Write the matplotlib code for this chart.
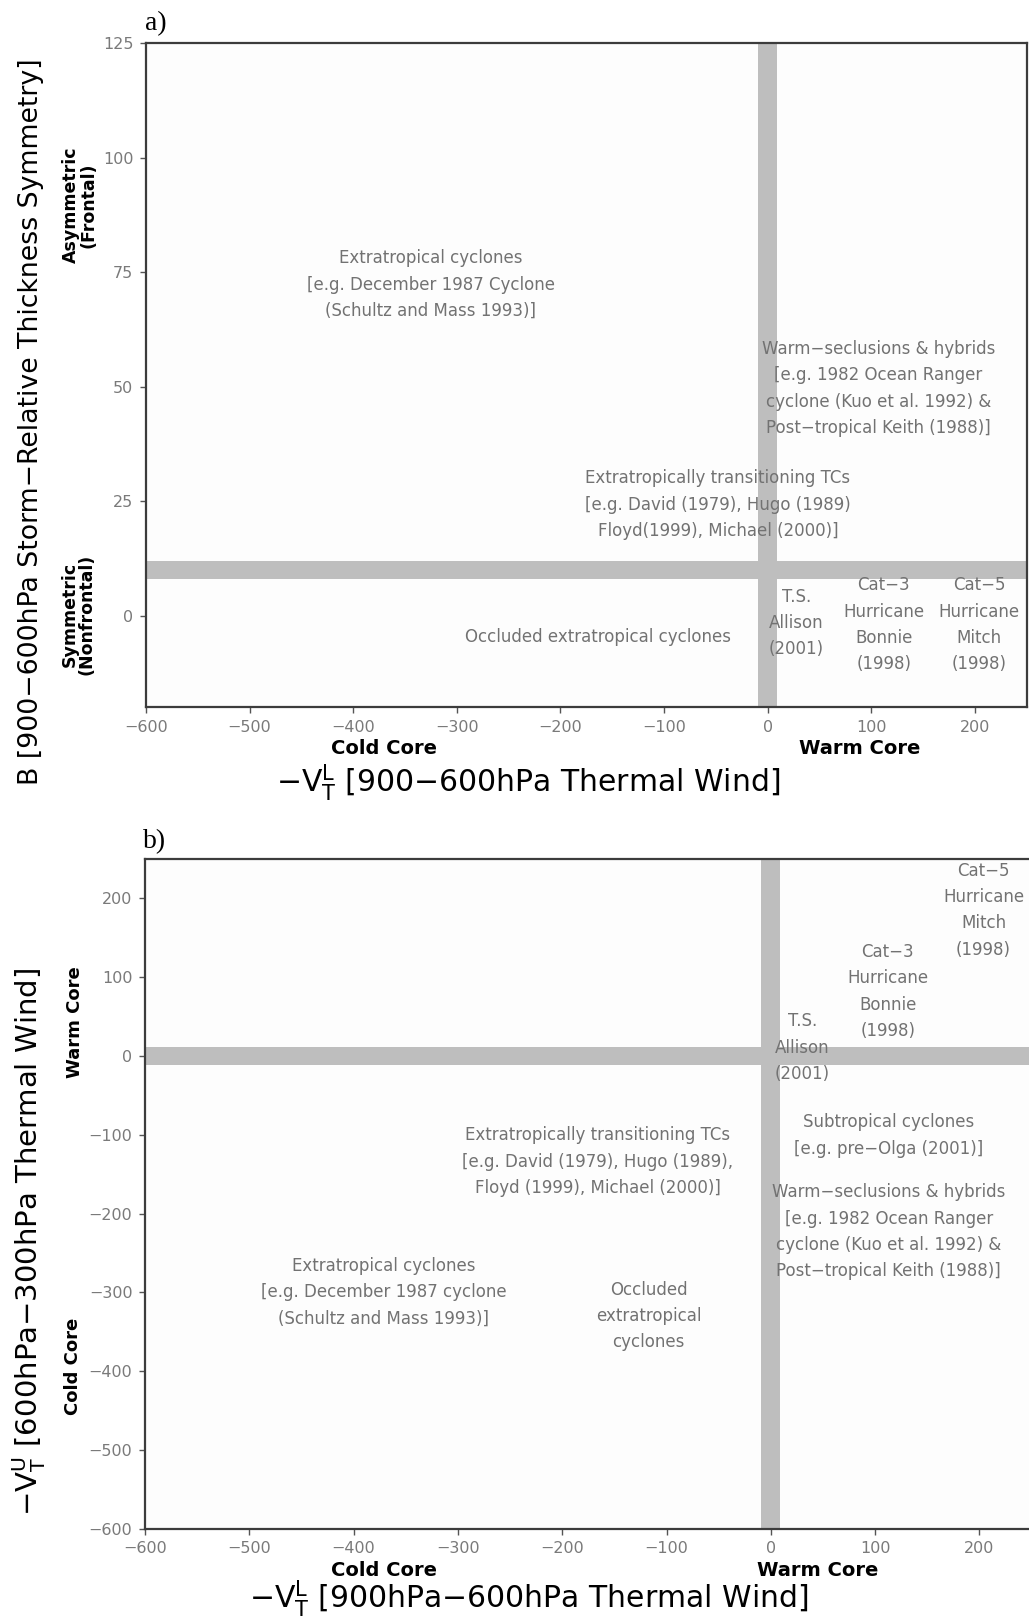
import matplotlib
matplotlib.use("Agg")
import matplotlib.pyplot as plt

plt.rcParams["font.family"] = ["DejaVu Sans"]
plt.rcParams["mathtext.default"] = "regular"

W, H, DPI = 1029, 1619, 100

# Axis ranges and ticks
x_range = (-600, 250)
x_ticks = [-600, -500, -400, -300, -200, -100, 0, 100, 200]
b_range = (-20, 125)
b_ticks = [0, 25, 50, 75, 100, 125]
vtu_range = (-600, 250)
vtu_ticks = [-600, -500, -400, -300, -200, -100, 0, 100, 200]

# Regime boundaries (shaded bands)
vtl_band = (-9, 9)
b_band = (8, 12)
vtu_band = (-12, 12)

# Panel a: regime annotations (B versus -VTL)
texts_a = [
    "Extratropical cyclones\n[e.g. December 1987 Cyclone\n(Schultz and Mass 1993)]",
    "Warm\u2212seclusions & hybrids\n[e.g. 1982 Ocean Ranger\ncyclone (Kuo et al. 1992) &\nPost\u2212tropical Keith (1988)]",
    "Extratropically transitioning TCs\n[e.g. David (1979), Hugo (1989)\nFloyd(1999), Michael (2000)]",
    "Occluded extratropical cyclones",
    "T.S.\nAllison\n(2001)",
    "Cat\u22123\nHurricane\nBonnie\n(1998)",
    "Cat\u22125\nHurricane\nMitch\n(1998)",
]
vtl_a = [-325, 107, -48, -164, 28, 112, 204]
b_a = [72.3, 49.6, 24.2, -4.7, -1.6, -2.0, -2.0]

# Panel b: regime annotations (-VTU versus -VTL)
texts_b = [
    "Cat\u22125\nHurricane\nMitch\n(1998)",
    "Cat\u22123\nHurricane\nBonnie\n(1998)",
    "T.S.\nAllison\n(2001)",
    "Subtropical cyclones\n[e.g. pre\u2212Olga (2001)]",
    "Warm\u2212seclusions & hybrids\n[e.g. 1982 Ocean Ranger\ncyclone (Kuo et al. 1992) &\nPost\u2212tropical Keith (1988)]",
    "Extratropically transitioning TCs\n[e.g. David (1979), Hugo (1989),\nFloyd (1999), Michael (2000)]",
    "Extratropical cyclones\n[e.g. December 1987 cyclone\n(Schultz and Mass 1993)]",
    "Occluded\nextratropical\ncyclones",
]
vtl_b = [204, 112, 30, 113, 113, -166, -371, -117]
vtu_b = [185, 82, 10.5, -101, -223, -134, -300, -330]

BAND = "#bebebe"
SPINE = "#3c3c3c"
TICKTXT = "#7a7a7a"
NOTE = "#727272"


def px(x, y):
    return x / W, 1 - y / H


def style(ax, ylim, yticks):
    ax.set_xlim(*x_range)
    ax.set_ylim(*ylim)
    ax.set_xticks(x_ticks)
    ax.set_yticks(yticks)
    ax.set_facecolor("#fdfdfd")
    ax.tick_params(direction="out", length=4, width=1, color="#555555",
                   labelcolor=TICKTXT, labelsize=11.5, pad=5)
    for s in ax.spines.values():
        s.set_color(SPINE)
        s.set_linewidth(1.6)


def notes(ax, texts, xs, ys):
    for t, x, y in zip(texts, xs, ys):
        ax.text(x, y, t, ha="center", va="center", multialignment="center",
                fontsize=12, color=NOTE, linespacing=1.6, zorder=3)


fig = plt.figure(figsize=(W / DPI, H / DPI), dpi=DPI, facecolor="white")

# ---- panel a ----
l, b = px(146, 707.3)
axa = fig.add_axes([l, b, (1026.7 - 146) / W, (707.3 - 43.3) / H])
style(axa, b_range, b_ticks)
axa.axvspan(*vtl_band, color=BAND, lw=0, zorder=0.5)
axa.axhspan(*b_band, color=BAND, lw=0, zorder=0.5)
notes(axa, texts_a, vtl_a, b_a)

# ---- panel b ----
l, b = px(145, 1528.8)
axb = fig.add_axes([l, b, (1031.6 - 145) / W, (1528.8 - 859) / H])
style(axb, vtu_range, vtu_ticks)
axb.axvspan(*vtl_band, color=BAND, lw=0, zorder=0.5)
axb.axhspan(*vtu_band, color=BAND, lw=0, zorder=0.5)
notes(axb, texts_b, vtl_b, vtu_b)

# Panel letters
fig.text(*px(145, 24), "a)", family="Liberation Serif", fontsize=20,
         ha="left", va="center")
fig.text(*px(143, 842), "b)", family="Liberation Serif", fontsize=20,
         ha="left", va="center")

# Axis titles
xlab_a = "$-V_T^L$ [900\u2212600hPa Thermal Wind]"
xlab_b = "$-V_T^L$ [900hPa\u2212600hPa Thermal Wind]"
ylab_a = "B [900\u2212600hPa Storm\u2212Relative Thickness Symmetry]"
ylab_b = "$-V_T^U$ [600hPa\u2212300hPa Thermal Wind]"

fig.text(*px(528, 782), xlab_a, fontsize=21.5, ha="center", va="center")
fig.text(*px(529, 1598), xlab_b, fontsize=21.5, ha="center", va="center")
fig.text(*px(31, 422), ylab_a, fontsize=19.3, rotation=90,
         ha="center", va="center")
fig.text(*px(29, 1242), ylab_b, fontsize=21, rotation=90,
         ha="center", va="center")

# Regime names along the axes
bold = dict(fontweight="bold", ha="center", va="center")
fig.text(*px(384, 748), "Cold Core", fontsize=14, **bold)
fig.text(*px(860, 748), "Warm Core", fontsize=14, **bold)
fig.text(*px(384, 1570), "Cold Core", fontsize=14, **bold)
fig.text(*px(818, 1570), "Warm Core", fontsize=14, **bold)
fig.text(*px(80, 205), "Asymmetric\n(Frontal)", fontsize=12.5, rotation=90,
         linespacing=0.95, **bold)
fig.text(*px(78, 614), "Symmetric\n(Nonfrontal)", fontsize=12.5, rotation=90,
         linespacing=0.95, **bold)
fig.text(*px(74.5, 1022), "Warm Core", fontsize=13, rotation=90, **bold)
fig.text(*px(73.5, 1366), "Cold Core", fontsize=13, rotation=90, **bold)

fig.savefig("out.png", dpi=DPI, facecolor="white")
